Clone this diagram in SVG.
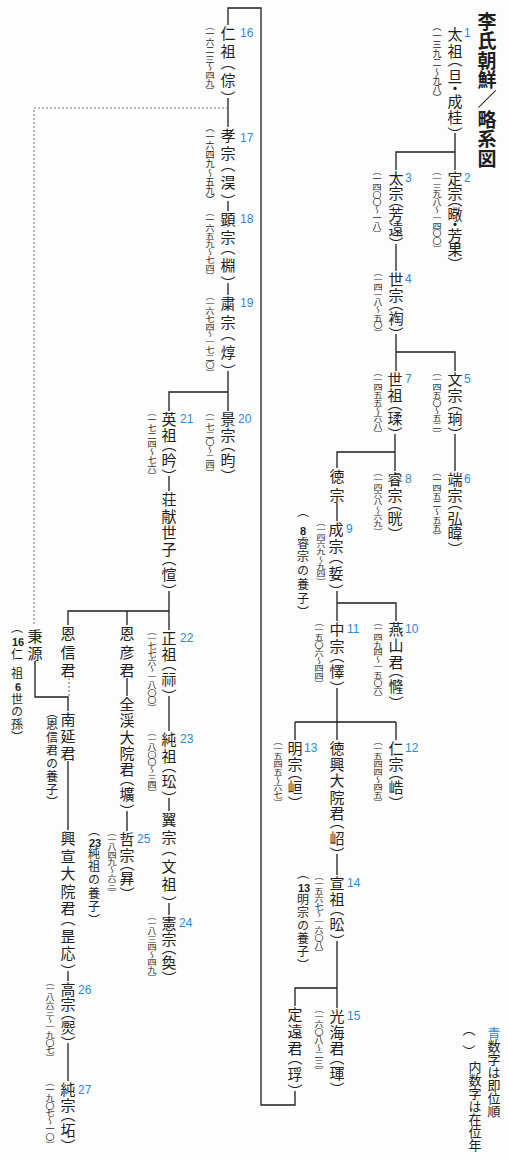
<svg xmlns="http://www.w3.org/2000/svg" width="508" height="1160" viewBox="0 0 508 1160">
<style>
.v{writing-mode:vertical-rl;font-family:"Noto Sans CJK JP","Noto Sans CJK SC",sans-serif;font-feature-settings:"vhal" 1;fill:#1e1e1e}
.m{font-size:15px}
.y{font-size:9px}
.n{font-size:12px}
.t{font-size:19px;font-weight:bold}
.lg{font-size:13px}
.num{font-family:"Liberation Sans",Arial,sans-serif;font-size:12px;fill:#2a8bd8}
.d{font-family:"Liberation Sans",Arial,sans-serif;font-size:11px;font-weight:bold;fill:#1e1e1e;text-anchor:middle}
.ln{fill:none;stroke:#1e1e1e;stroke-width:1.3}
.dot{fill:none;stroke:#777;stroke-width:1.1;stroke-dasharray:2 2}
.blue{fill:#2a8bd8}
</style>
<rect width="508" height="1160" fill="#fdfdfd"/>

<g id="connectors">
<path class="ln" d="M455,133 V170 M455,152 H396 V170"/>
<path class="ln" d="M396,244 V271"/>
<path class="ln" d="M396,334 V371 M396,352 H455 V371"/>
<path class="ln" d="M455,434 V471"/>
<path class="ln" d="M395,434 V471 M395,452 H337 V468"/>
<path class="ln" d="M337,503 V521"/>
<path class="ln" d="M337,591 V621 M337,603 H396 V621"/>
<path class="ln" d="M337,688 V740 M295,722 H396 M295,722 V740 M396,722 V740"/>
<path class="ln" d="M337,854 V875"/>
<path class="ln" d="M337,941 V1008 M337,988 H295 V1006"/>
<path class="ln" d="M295,1091 V1105 H261 V8 H228 V25"/>
<path class="ln" d="M228,98 V127"/>
<path class="dot" d="M228,108 H34 V624"/>
<path class="ln" d="M228,201 V211"/>
<path class="ln" d="M228,283 V295"/>
<path class="ln" d="M228,371 V411 M228,392 H169 V411"/>
<path class="ln" d="M169,476 V491"/>
<path class="ln" d="M169,591 V630 M169,611 H68 V625 M127,611 V625"/>
<path class="ln" d="M169,696 V731"/>
<path class="ln" d="M169,798 V811"/>
<path class="ln" d="M169,903 V915"/>
<path class="ln" d="M127,678 V696"/>
<path class="ln" d="M127,811 V831"/>
<path class="dot" d="M69,678 V697"/>
<path class="ln" d="M35,661 V697 H68 V711"/>
<path class="ln" d="M68,761 V830"/>
<path class="ln" d="M68,971 V981"/>
<path class="ln" d="M68,1043 V1081"/>
</g>

<g id="title"><text class="v t" x="487" y="12" textLength="156">李氏朝鮮／略系図</text></g>

<g id="n1"><text class="v m" x="455" y="27" textLength="107">太祖（旦・成桂）</text><text class="num" x="464" y="37">1</text><text class="v y" x="437" y="27" textLength="71" lengthAdjust="spacingAndGlyphs">（一三九二～九八）</text></g>
<g id="n2"><text class="v m" x="455" y="171" textLength="93">定宗（曔・芳果）</text><text class="num" x="464" y="182">2</text><text class="v y" x="437" y="171" textLength="78" lengthAdjust="spacingAndGlyphs">（一三九八～一四〇〇）</text></g>
<g id="n3"><text class="v m" x="396" y="171" textLength="73">太宗（芳遠）</text><text class="num" x="405" y="182">3</text><text class="v y" x="377" y="171" textLength="63" lengthAdjust="spacingAndGlyphs">（一四〇〇～一八）</text></g>
<g id="n4"><text class="v m" x="396" y="272" textLength="62">世宗（裪）</text><text class="num" x="405" y="283">4</text><text class="v y" x="378" y="272" textLength="61" lengthAdjust="spacingAndGlyphs">（一四一八～五〇）</text></g>
<g id="n5"><text class="v m" x="455" y="372" textLength="62">文宗（珦）</text><text class="num" x="464" y="383">5</text><text class="v y" x="437" y="372" textLength="62" lengthAdjust="spacingAndGlyphs">（一四五〇～五二）</text></g>
<g id="n6"><text class="v m" x="455" y="472" textLength="77">端宗（弘暐）</text><text class="num" x="464" y="483">6</text><text class="v y" x="437" y="472" textLength="64" lengthAdjust="spacingAndGlyphs">（一四五二～五五）</text></g>
<g id="n7"><text class="v m" x="395" y="372" textLength="62">世祖（瑈）</text><text class="num" x="405" y="383">7</text><text class="v y" x="378" y="372" textLength="62" lengthAdjust="spacingAndGlyphs">（一四五五～六八）</text></g>
<g id="n8"><text class="v m" x="395" y="472" textLength="62">睿宗（晄）</text><text class="num" x="405" y="483">8</text><text class="v y" x="378" y="472" textLength="59" lengthAdjust="spacingAndGlyphs">（一四六八～六九）</text></g>
<g id="tokjong"><text class="v m" x="337" y="469" textLength="34">徳宗</text></g>
<g id="n9"><text class="v m" x="336" y="522" textLength="69">成宗（娎）</text><text class="num" x="346" y="533">9</text><text class="v y" x="321" y="522" textLength="59" lengthAdjust="spacingAndGlyphs">（一四六九～九四）</text>
<text class="v n" x="303" y="511">（</text><text class="d" x="303" y="535">8</text><text class="v n" x="303" y="537" textLength="75">睿宗の養子）</text></g>
<g id="n10"><text class="v m" x="396" y="622" textLength="81">燕山君（㦕）</text><text class="num" x="405" y="633">10</text><text class="v y" x="378" y="622" textLength="76" lengthAdjust="spacingAndGlyphs">（一四九四～一五〇六）</text></g>
<g id="n11"><text class="v m" x="337" y="622" textLength="66">中宗（懌）</text><text class="num" x="347" y="633">11</text><text class="v y" x="319" y="622" textLength="62" lengthAdjust="spacingAndGlyphs">（一五〇六～四四）</text></g>
<g id="n12"><text class="v m" x="396" y="741" textLength="62">仁宗（峼）</text><text class="num" x="405" y="752">12</text><text class="v y" x="378" y="741" textLength="62" lengthAdjust="spacingAndGlyphs">（一五四四～四五）</text></g>
<g id="n13"><text class="v m" x="295" y="741" textLength="62">明宗（峘）</text><text class="num" x="304" y="752">13</text><text class="v y" x="278" y="741" textLength="62" lengthAdjust="spacingAndGlyphs">（一五四五～六七）</text></g>
<g id="tokhung"><text class="v m" x="337" y="741" textLength="113">徳興大院君（岹）</text></g>
<g id="n14"><text class="v m" x="337" y="876" textLength="65">宣祖（昖）</text><text class="num" x="347" y="887">14</text><text class="v y" x="319" y="876" textLength="77" lengthAdjust="spacingAndGlyphs">（一五六七～一六〇八）</text>
<text class="v n" x="303" y="873">（</text><text class="d" x="304" y="892">13</text><text class="v n" x="303" y="893" textLength="72">明宗の養子）</text></g>
<g id="n15"><text class="v m" x="337" y="1009" textLength="80">光海君（琿）</text><text class="num" x="347" y="1020">15</text><text class="v y" x="319" y="1009" textLength="62" lengthAdjust="spacingAndGlyphs">（一六〇八～二三）</text></g>
<g id="jongwon"><text class="v m" x="295" y="1007" textLength="84">定遠君（琈）</text></g>

<g id="n16"><text class="v m" x="228" y="26" textLength="72">仁祖（倧）</text><text class="num" x="240" y="37">16</text><text class="v y" x="210" y="26" textLength="65" lengthAdjust="spacingAndGlyphs">（一六二三～四九）</text></g>
<g id="n17"><text class="v m" x="228" y="128" textLength="73">孝宗（淏）</text><text class="num" x="240" y="142">17</text><text class="v y" x="210" y="128" textLength="72" lengthAdjust="spacingAndGlyphs">（一六四九～五九）</text></g>
<g id="n18"><text class="v m" x="228" y="212" textLength="71">顕宗（棩）</text><text class="num" x="240" y="223">18</text><text class="v y" x="210" y="212" textLength="64" lengthAdjust="spacingAndGlyphs">（一六五九～七四）</text></g>
<g id="n19"><text class="v m" x="228" y="296" textLength="75">粛宗（焞）</text><text class="num" x="240" y="307">19</text><text class="v y" x="210" y="296" textLength="77" lengthAdjust="spacingAndGlyphs">（一六七四～一七二〇）</text></g>
<g id="n20"><text class="v m" x="228" y="412" textLength="64">景宗（昀）</text><text class="num" x="238" y="423">20</text><text class="v y" x="210" y="412" textLength="61" lengthAdjust="spacingAndGlyphs">（一七二〇～二四）</text></g>
<g id="n21"><text class="v m" x="169" y="412" textLength="64">英祖（昑）</text><text class="num" x="180" y="423">21</text><text class="v y" x="152" y="412" textLength="64" lengthAdjust="spacingAndGlyphs">（一七二四～七六）</text></g>
<g id="sado"><text class="v m" x="169" y="492" textLength="99">荘献世子（愃）</text></g>
<g id="n22"><text class="v m" x="169" y="631" textLength="65">正祖（祘）</text><text class="num" x="180" y="642">22</text><text class="v y" x="152" y="631" textLength="77" lengthAdjust="spacingAndGlyphs">（一七七六～一八〇〇）</text></g>
<g id="n23"><text class="v m" x="169" y="732" textLength="66">純祖（玜）</text><text class="num" x="180" y="743">23</text><text class="v y" x="152" y="732" textLength="61" lengthAdjust="spacingAndGlyphs">（一八〇〇～三四）</text></g>
<g id="ikjong"><text class="v m" x="169" y="812" textLength="91">翼宗（文祖）</text></g>
<g id="n24"><text class="v m" x="169" y="916" textLength="62">憲宗（奐）</text><text class="num" x="179" y="927">24</text><text class="v y" x="152" y="916" textLength="62" lengthAdjust="spacingAndGlyphs">（一八三四～四九）</text></g>
<g id="unon"><text class="v m" x="127" y="626" textLength="52">恩彦君</text></g>
<g id="jeongye"><text class="v m" x="127" y="697" textLength="114">全渓大院君（壙）</text></g>
<g id="n25"><text class="v m" x="127" y="832" textLength="62">哲宗（昪）</text><text class="num" x="137" y="843">25</text><text class="v y" x="112" y="832" textLength="61" lengthAdjust="spacingAndGlyphs">（一八四九～六三）</text>
<text class="v n" x="94" y="830">（</text><text class="d" x="95" y="847">23</text><text class="v n" x="94" y="847" textLength="73">純祖の養子）</text></g>
<g id="unsin"><text class="v m" x="68" y="626" textLength="52">恩信君</text></g>
<g id="byongwon"><text class="v m" x="35" y="629" textLength="32">秉源</text>
<text class="v n" x="17" y="627">（</text><text class="d" x="18" y="646">16</text><text class="v n" x="17" y="648" textLength="31">仁祖</text><text class="d" x="18" y="691">6</text><text class="v n" x="17" y="693" textLength="44">世の孫）</text></g>
<g id="namyon"><text class="v m" x="68" y="712" textLength="49">南延君</text><text class="v n" x="52" y="712" textLength="90">（恩信君の養子）</text></g>
<g id="hungson"><text class="v m" x="68" y="831" textLength="140">興宣大院君（昰応）</text></g>
<g id="n26"><text class="v m" x="68" y="982" textLength="61">高宗（㷩）</text><text class="num" x="78" y="994">26</text><text class="v y" x="50" y="982" textLength="76" lengthAdjust="spacingAndGlyphs">（一八六三～一九〇七）</text></g>
<g id="n27"><text class="v m" x="68" y="1082" textLength="64">純宗（坧）</text><text class="num" x="78" y="1094">27</text><text class="v y" x="50" y="1082" textLength="63" lengthAdjust="spacingAndGlyphs">（一九〇七～一〇）</text></g>

<g id="legend">
<text class="v lg" x="494" y="1027" textLength="91"><tspan class="blue">青</tspan>数字は即位順</text>
<text class="v lg" x="469" y="1029" textLength="22">（　）</text>
<text class="v lg" x="475" y="1061" textLength="91">内数字は在位年</text>
</g>
</svg>
